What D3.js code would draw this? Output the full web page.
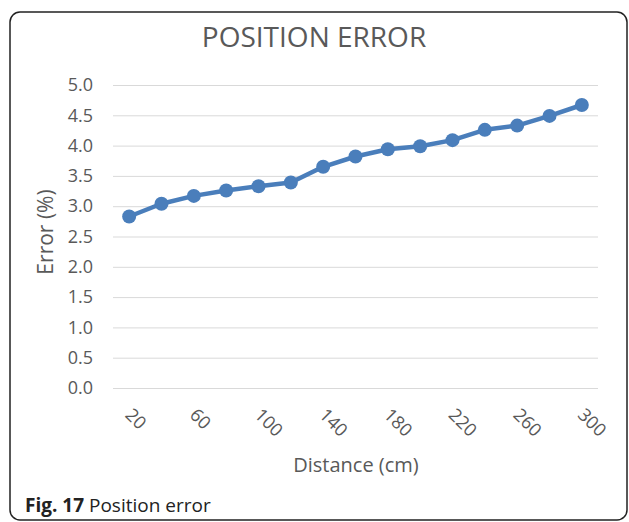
<!DOCTYPE html>
<html>
<head>
<meta charset="utf-8">
<script src="https://cdn.jsdelivr.net/npm/d3@7.9.0/dist/d3.min.js"></script>
<style>
  html, body { margin: 0; padding: 0; background: #fff; }
  svg { display: block; font-family: 'Open Sans', sans-serif; }
</style>
</head>
<body>
<div id="chart"></div>
<script>
// distances (cm) and error (%)
const distances = [20, 40, 60, 80, 100, 120, 140, 160, 180, 200, 220, 240, 260, 280, 300];
const errors = [2.83, 3.04, 3.17, 3.26, 3.33, 3.39, 3.65, 3.82, 3.94, 3.99, 4.09, 4.26, 4.33, 4.49, 4.67];
const yTicks = [0, 0.5, 1, 1.5, 2, 2.5, 3, 3.5, 4, 4.5, 5];
const xLabels = [20, 60, 100, 140, 180, 220, 260, 300];

const width = 629;
const height = 522;
const textColor = '#595959';
const lineColor = '#4a7ebb';

const svg = d3.select('#chart')
  .append('svg')
  .attr('width', width)
  .attr('height', height);

const plot = { left: 113, right: 598, top: 85, bottom: 388 };

const xScale = d3.scaleBand()
  .domain(distances)
  .range([plot.left, plot.right]);

const yScale = d3.scaleLinear()
  .domain([0, 5])
  .range([plot.bottom, plot.top]);

const cx = (d) => xScale(d) + xScale.bandwidth() / 2;

// frame around the figure
svg.append('rect')
  .attr('x', 10)
  .attr('y', 12)
  .attr('width', 617)
  .attr('height', 508)
  .attr('rx', 10)
  .attr('fill', 'none')
  .attr('stroke', '#222')
  .attr('stroke-width', 1.5);

// title
svg.append('text')
  .attr('x', 314)
  .attr('y', 47)
  .attr('text-anchor', 'middle')
  .attr('fill', textColor)
  .style('font-size', '28px')
  .text('POSITION ERROR');

// gridlines + y labels
const yAxis = svg.append('g')
  .attr('transform', `translate(${plot.left}, 0)`)
  .call(d3.axisLeft(yScale)
    .tickValues(yTicks)
    .tickSize(-(plot.right - plot.left))
    .tickPadding(20)
    .tickFormat(d3.format('.1f')));

yAxis.select('.domain').remove();
yAxis.selectAll('.tick line').attr('stroke', '#d9d9d9').attr('stroke-width', 1);
yAxis.selectAll('.tick text')
  .attr('fill', textColor)
  .style('font-size', '18px')
  .style('font-family', "'Open Sans', sans-serif");

// x labels, rotated
svg.append('g')
  .selectAll('text')
  .data(xLabels)
  .join('text')
  .attr('transform', (d) => `translate(${cx(d) - 5}, 416) rotate(45)`)
  .attr('fill', textColor)
  .style('font-size', '18px')
  .text((d) => d);

// axis titles
svg.append('text')
  .attr('transform', 'translate(46, 232) rotate(-90)')
  .attr('dy', '0.35em')
  .attr('text-anchor', 'middle')
  .attr('fill', textColor)
  .style('font-size', '21px')
  .text('Error (%)');

svg.append('text')
  .attr('x', 356)
  .attr('y', 472)
  .attr('text-anchor', 'middle')
  .attr('fill', textColor)
  .style('font-size', '20px')
  .text('Distance (cm)');

// line + markers
const line = d3.line()
  .x((d, i) => cx(distances[i]))
  .y((d) => yScale(d));

svg.append('path')
  .datum(errors)
  .attr('d', line)
  .attr('fill', 'none')
  .attr('stroke', lineColor)
  .attr('stroke-width', 4.5)
  .attr('stroke-linejoin', 'round');

svg.append('g')
  .selectAll('circle')
  .data(errors)
  .join('circle')
  .attr('cx', (d, i) => cx(distances[i]))
  .attr('cy', (d) => yScale(d))
  .attr('r', 7)
  .attr('fill', lineColor);

// caption
const caption = svg.append('text')
  .attr('x', 25)
  .attr('y', 512)
  .attr('fill', '#222')
  .style('font-size', '19px');
caption.append('tspan').style('font-weight', 'bold').text('Fig. 17');
caption.append('tspan').text(' Position error');
</script>
</body>
</html>
